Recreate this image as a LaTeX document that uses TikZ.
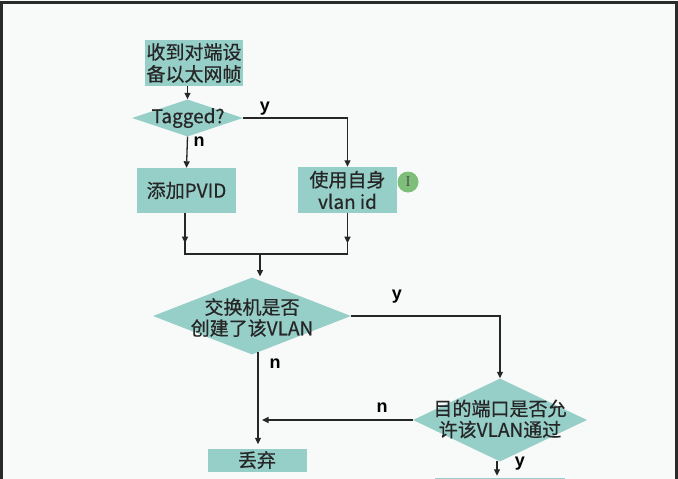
\documentclass[tikz,border=0pt]{standalone}
\usepackage{fontspec}
\setmainfont{Noto Sans CJK SC}[FakeBold=0.6]
\newfontfamily\labfont{Liberation Sans}
\newfontfamily\beamfont{Liberation Serif}
\usetikzlibrary{shapes.geometric,arrows.meta}
\definecolor{bg}{HTML}{F8FAF9}
\definecolor{teal}{HTML}{96CEC8}
\definecolor{frame}{HTML}{2A2A2A}
\definecolor{ink}{HTML}{262626}
\definecolor{dot}{HTML}{7DBF78}
\tikzset{
  box/.style={rectangle, fill=teal, draw=none, inner sep=0pt, align=center,
    text=ink, font=\fontsize{19}{22}\selectfont},
  dia/.style={diamond, fill=teal, draw=none, inner sep=0pt},
  diatext/.style={align=center, text=ink, inner sep=0pt, font=\fontsize{19}{21}\selectfont},
  lab/.style={text=black, inner sep=0pt, font=\labfont\bfseries\fontsize{18}{18}\selectfont},
  conn/.style={line width=1.3pt, draw=ink},
  arr/.style={conn, -{Triangle[length=6.5pt,width=6pt]}},
}
\begin{document}
\begin{tikzpicture}[x=1pt,y=-1pt]
\useasboundingbox (0,0) rectangle (678,479);
\clip (0,0) rectangle (678,479);
\fill[bg] (0,0) rectangle (678,479);
\draw[frame, line width=3pt] (1.5,480) -- (1.5,2.5) -- (676.5,2.5) -- (676.5,480);

% nodes
\node[box, minimum width=98pt, minimum height=46pt] (recv) at (194,63) {收到对端设\\备以太网帧};
\node[dia, minimum width=111pt, minimum height=37pt] (tag) at (187.5,118) {};
\node[diatext] (tagt) at (188,118) {Tagged?};
\node[box, minimum width=99pt, minimum height=45pt] (pvid) at (186.5,190.5) {添加PVID};
\node[box, minimum width=99pt, minimum height=46pt] (vlan) at (347.5,190) {使用自身\\vlan id};
\node[dia, minimum width=198pt, minimum height=77pt] (d2) at (252,316) {};
\node[diatext] (d2t) at (252,317.5) {交换机是否\\创建了该VLAN};
\node[dia, minimum width=174pt, minimum height=83pt] (d3) at (500,420) {};
\node[diatext] (d3t) at (500,419) {目的端口是否允\\许该VLAN通过};
\node[box, minimum width=99pt, minimum height=23pt] (drop) at (257,460) {丢弃};
\node[box, minimum width=130pt, minimum height=44pt] (next) at (500,500) {};
\node[circle, fill=dot, minimum size=21pt, inner sep=0pt, text=ink!80,
  font=\beamfont\fontsize{15}{15}\selectfont] (cursor) at (408,182) {I};

% coordinates
\coordinate (jl) at (185,254);
\coordinate (jr) at (347.5,254);
\coordinate (jm) at (260,254);
\coordinate (nend) at (262,420);

% connectors
\draw[arr] (recv.south -| tag.north) -- (tag.north);
\draw[arr] (tag.south) -- (pvid.north);
\draw[arr] (tag.east) -| (vlan.north);
\draw[conn] (pvid.south -| jl) -- (jl) -- (jr) -- (vlan.south -| jr);
\draw[arr] (pvid.south -| jl) -- ++(0,30);
\draw[arr] (vlan.south -| jr) -- ++(0,30);
\draw[arr] (jm) -- ++(0,22.5);
\draw[arr] (d2.east) -| (d3.north);
\draw[arr, shorten >=4pt] (258,352) -- (drop.north -| 258,0);
\draw[arr] (d3.west) -- (nend);
\draw[arr, shorten >=2pt] (497,461) -- (next.north -| 497,0);

% labels
\node[lab] at (265,109) {y};
\node[lab] at (199,142) {n};
\node[lab] at (397,297) {y};
\node[lab] at (275,364) {n};
\node[lab] at (382,408) {n};
\node[lab] at (520,464) {y};
\end{tikzpicture}
\end{document}
